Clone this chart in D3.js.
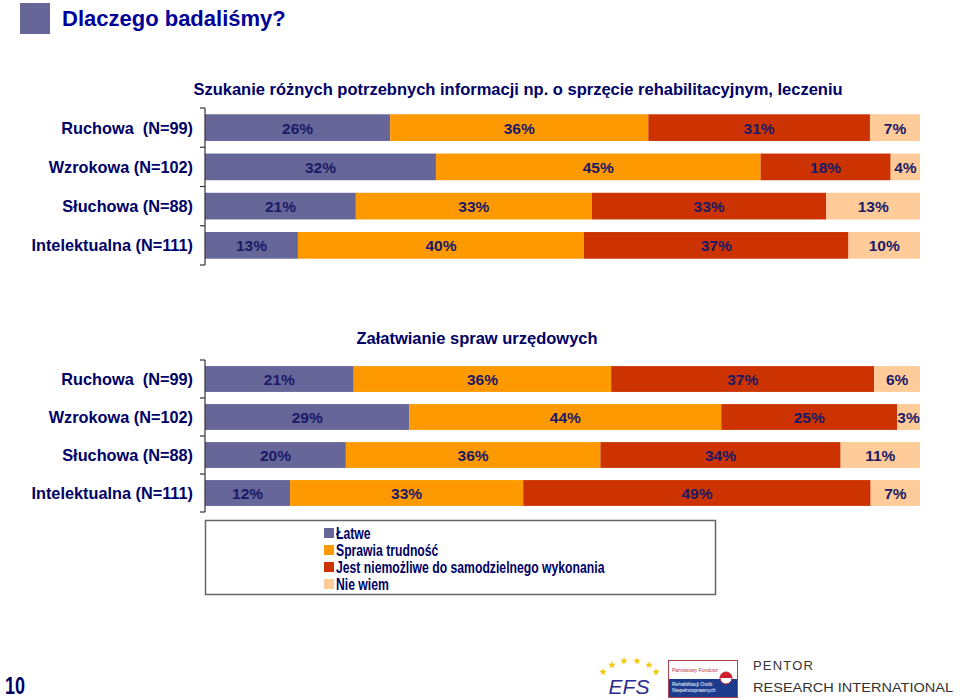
<!DOCTYPE html>
<html><head><meta charset="utf-8">
<script src="https://cdn.jsdelivr.net/npm/d3@7"></script>
<style>
html,body{margin:0;padding:0;background:#fff;}
svg text{font-family:"Liberation Sans",Arial,sans-serif;}
</style></head>
<body><svg id="c" width="960" height="700"></svg>
<script>
// ---- data ----
const categories = ["Ruchowa  (N=99)", "Wzrokowa (N=102)", "Słuchowa (N=88)", "Intelektualna (N=111)"];
const seriesNames = ["Łatwe", "Sprawia trudność", "Jest niemożliwe do samodzielnego wykonania", "Nie wiem"];
const seriesColors = ["#666699", "#FF9900", "#CC3300", "#FFCC99"];
// Chart 1: Szukanie różnych potrzebnych informacji
const chart1Title = "Szukanie różnych potrzebnych informacji np. o sprzęcie rehabilitacyjnym, leczeniu";
const c1Latwe      = [25.9, 32.3, 21.1, 13.0];
const c1Trudnosc   = [36.1, 45.4, 33.0, 40.0];
const c1Niemozliwe = [31.0, 18.2, 32.8, 37.0];
const c1NieWiem    = [7.0, 4.1, 13.1, 10.0];
// Chart 2: Załatwianie spraw urzędowych
const chart2Title = "Załatwianie spraw urzędowych";
const c2Latwe      = [20.8, 28.6, 19.7, 11.9];
const c2Trudnosc   = [36.0, 43.6, 35.6, 32.6];
const c2Niemozliwe = [36.8, 24.6, 33.6, 48.6];
const c2NieWiem    = [6.4, 3.2, 11.1, 6.9];
const xTicks = [0, 100];

const svg = d3.select("#c");
const NAVY = "#000066";

// header
svg.append("rect").attr("x",20).attr("y",3).attr("width",30).attr("height",31).attr("fill","#666699");
svg.append("text").attr("x",62).attr("y",26).attr("font-size",22).attr("font-weight","bold")
  .attr("fill","#000099").text("Dlaczego badaliśmy?");

const x = d3.scaleLinear().domain([xTicks[0], xTicks[1]]).range([205, 920]);

function drawChart(title, titleX, titleY, series, y0, y1) {
  const rows = categories.map((c,i)=>{
    const r = {cat:c};
    seriesNames.forEach((s,j)=> r[s] = series[j][i]);
    return r;
  });
  const y = d3.scaleBand().domain(categories).range([y0,y1]).paddingInner(0.32).paddingOuter(0.16);
  const stack = d3.stack().keys(seriesNames)(rows);
  const g = svg.append("g");
  stack.forEach((layer,j)=>{
    layer.forEach(d=>{
      g.append("rect").attr("x",x(d[0])).attr("y",y(d.data.cat))
        .attr("width",x(d[1])-x(d[0])).attr("height",y.bandwidth())
        .attr("fill",seriesColors[j]);
      g.append("text").attr("x",(x(d[0])+x(d[1]))/2).attr("y",y(d.data.cat)+y.bandwidth()/2+6)
        .attr("text-anchor","middle").attr("font-size",15.5).attr("font-weight","bold").attr("fill","#1a1a66")
        .text(Math.round(d[1]-d[0])+"%");
    });
  });
  const ax = svg.append("g");
  ax.append("line").attr("x1",205).attr("x2",205).attr("y1",y0).attr("y2",y1)
    .attr("stroke","#333").attr("stroke-width",1.2);
  for (let k=0;k<=categories.length;k++){
    const yy = y0 + k*(y1-y0)/categories.length;
    ax.append("line").attr("x1",200).attr("x2",205).attr("y1",yy).attr("y2",yy)
      .attr("stroke","#333").attr("stroke-width",1.2);
  }
  categories.forEach(c=>{
    ax.append("text").attr("x",193).attr("y",y(c)+y.bandwidth()/2+6)
      .attr("text-anchor","end").attr("font-size",16.3).attr("font-weight","bold").attr("fill",NAVY)
      .attr("xml:space","preserve").style("white-space","pre").text(c);
  });
  svg.append("text").attr("x",titleX).attr("y",titleY).attr("text-anchor","middle")
    .attr("font-size",16.5).attr("font-weight","bold").attr("fill",NAVY).text(title);
}

drawChart(chart1Title, 518, 95, [c1Latwe,c1Trudnosc,c1Niemozliwe,c1NieWiem], 108, 265);
drawChart(chart2Title, 477, 344, [c2Latwe,c2Trudnosc,c2Niemozliwe,c2NieWiem], 360, 512);

// legend
svg.append("rect").attr("x",205.5).attr("y",520.5).attr("width",510).attr("height",74)
  .attr("fill","#fff").attr("stroke","#666").attr("stroke-width",1.5);
seriesNames.forEach((s,i)=>{
  const yy = 528 + i*17;
  svg.append("rect").attr("x",324).attr("y",yy).attr("width",10).attr("height",10).attr("fill",seriesColors[i]);
  svg.append("text").attr("x",0).attr("y",0).attr("font-size",16.5).attr("font-weight","bold")
    .attr("transform",`translate(336,${yy+11}) scale(0.74,1)`).attr("fill",NAVY).text(s);
});

// footer
svg.append("text").attr("x",0).attr("y",0).attr("font-size",24).attr("font-weight","bold")
  .attr("transform","translate(5,694) scale(0.75,1)").attr("fill",NAVY).text("10");
// EFS logo approximation
const star = d3.symbol().type(d3.symbolStar).size(18);
[[603,672],[612,665],[624,661],[637,661],[649,665],[656,672]].forEach(p=>{
  svg.append("path").attr("d",star()).attr("transform",`translate(${p[0]},${p[1]})`).attr("fill","#f2c500");
});
svg.append("text").attr("x",629).attr("y",694).attr("text-anchor","middle").attr("font-size",21)
  .attr("font-style","italic").attr("fill","#2b2b8c").attr("font-family","DejaVu Sans").text("EFS");
// PFRON box
svg.append("rect").attr("x",668.5).attr("y",660.5).attr("width",69).attr("height",37)
  .attr("fill","#fff").attr("stroke","#b04050").attr("stroke-width",1);
svg.append("rect").attr("x",669).attr("y",679).attr("width",68).attr("height",18).attr("fill","#1c3b8c");
svg.append("text").attr("x",672).attr("y",672).attr("font-size",5).attr("fill","#c03030").text("Państwowy Fundusz");
svg.append("text").attr("x",672).attr("y",686).attr("font-size",5).attr("fill","#fff").text("Rehabilitacji Osób");
svg.append("text").attr("x",672).attr("y",692).attr("font-size",5).attr("fill","#fff").text("Niepełnosprawnych");
svg.append("circle").attr("cx",726).attr("cy",678).attr("r",6).attr("fill","#fff").attr("stroke","#c02030");
svg.append("path").attr("d","M720,678 A6,6 0 0,1 732,678 Z").attr("fill","#d02030");
svg.append("text").attr("x",753).attr("y",670).attr("font-size",13).attr("letter-spacing",1.2)
  .attr("fill","#333").attr("font-family","DejaVu Sans Condensed, DejaVu Sans").text("PENTOR");
svg.append("text").attr("x",753).attr("y",692).attr("font-size",13)
  .attr("textLength",200).attr("lengthAdjust","spacingAndGlyphs")
  .attr("fill","#333").attr("font-family","DejaVu Sans Condensed, DejaVu Sans").text("RESEARCH INTERNATIONAL");
</script></body></html>
